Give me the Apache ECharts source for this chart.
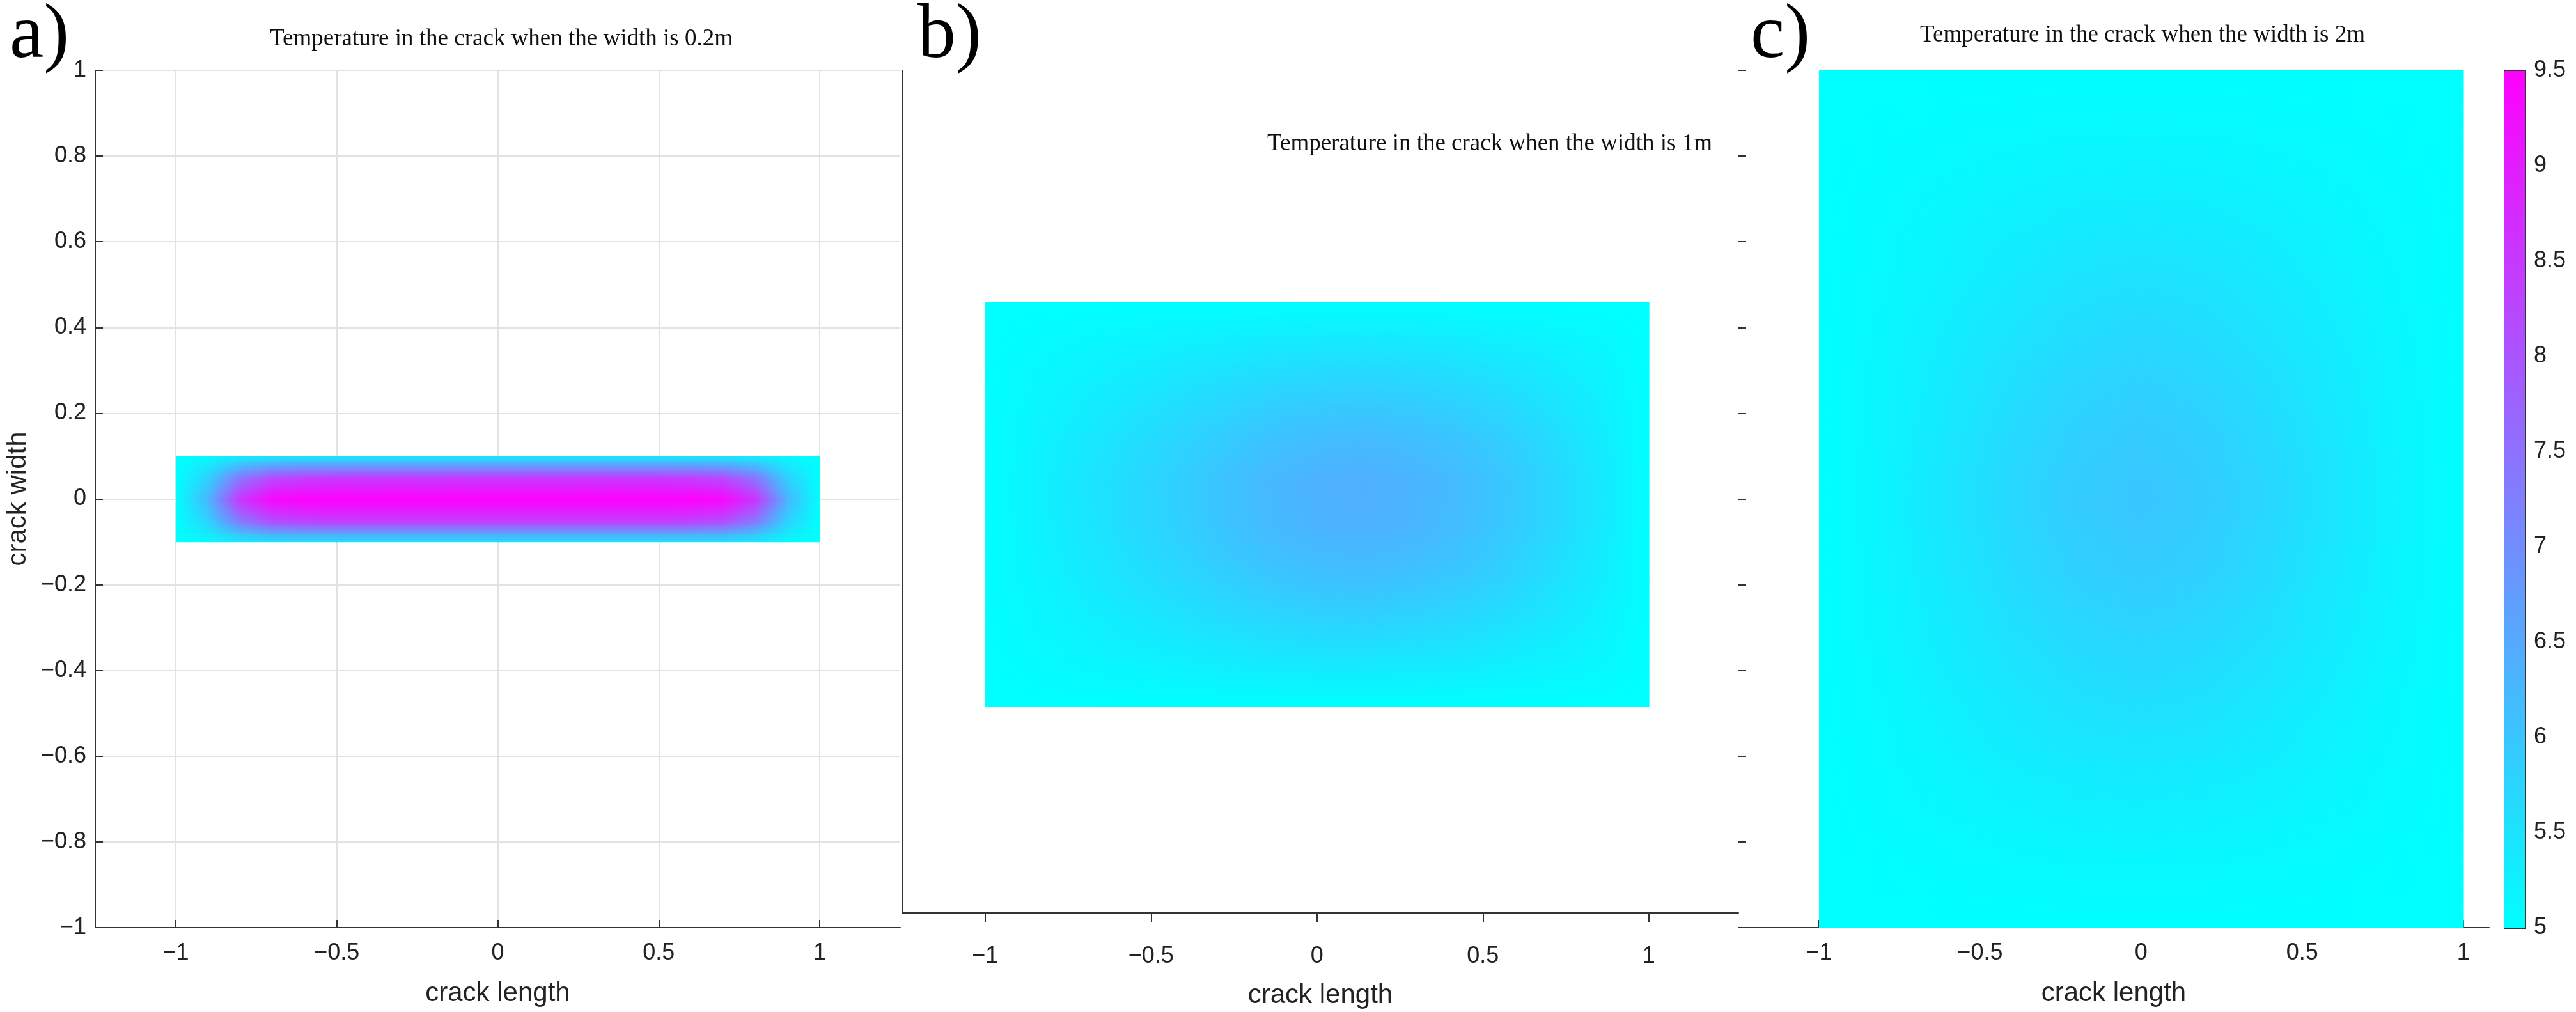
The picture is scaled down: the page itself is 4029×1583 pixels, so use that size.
<!DOCTYPE html>
<html><head><meta charset="utf-8">
<script src="https://cdn.jsdelivr.net/npm/echarts@6/dist/echarts.min.js"></script>
<style>html,body{margin:0;background:#fff}#c{width:4029px;height:1583px}</style>
</head><body><div id="c"></div>
<script>
// Node values (temperature); rows from bottom to top.
// Panel a: width 0.2 m
const aX = [-1,-0.9,-0.8,-0.7,-0.6,-0.5,-0.4,-0.3,-0.2,-0.1,0,0.1,0.2,0.3,0.4,0.5,0.6,0.7,0.8,0.9,1];
const aY = [-0.1,-0.05,0,0.05,0.1];
const aValues = [
 [5,5.1,5.3,5.4,5.4,5.4,5.4,5.4,5.4,5.4,5.4,5.4,5.4,5.4,5.4,5.4,5.4,5.4,5.3,5.1,5],
 [5,5.8,7.4,8.2,8.4,8.5,8.5,8.5,8.5,8.5,8.5,8.5,8.5,8.5,8.5,8.5,8.4,8.2,7.4,5.8,5],
 [5,6.3,8.6,9.4,9.5,9.5,9.5,9.5,9.5,9.5,9.5,9.5,9.5,9.5,9.5,9.5,9.5,9.4,8.6,6.3,5],
 [5,5.8,7.4,8.2,8.4,8.5,8.5,8.5,8.5,8.5,8.5,8.5,8.5,8.5,8.5,8.5,8.4,8.2,7.4,5.8,5],
 [5,5.1,5.3,5.4,5.4,5.4,5.4,5.4,5.4,5.4,5.4,5.4,5.4,5.4,5.4,5.4,5.4,5.4,5.3,5.1,5]
];
// Panel b: width 1 m
const bX = [-1,-0.857,-0.714,-0.571,-0.429,-0.286,-0.143,0,0.143,0.286,0.429,0.571,0.714,0.857,1];
const bY = [-0.51,-0.403,-0.297,-0.19,-0.083,0.023,0.13,0.237,0.343,0.45];
const bValues = [
 [5,5,5,5,5,5,5,5,5,5,5,5,5,5,5],
 [5,5.06,5.13,5.19,5.25,5.32,5.37,5.41,5.42,5.40,5.36,5.29,5.21,5.12,5],
 [5,5.12,5.24,5.37,5.49,5.61,5.71,5.79,5.81,5.77,5.69,5.57,5.41,5.23,5],
 [5,5.17,5.34,5.52,5.69,5.86,6.01,6.11,6.15,6.09,5.98,5.80,5.57,5.32,5],
 [5,5.20,5.41,5.61,5.81,6.02,6.20,6.32,6.36,6.29,6.15,5.95,5.68,5.38,5],
 [5,5.21,5.42,5.63,5.84,6.05,6.23,6.36,6.40,6.33,6.19,5.98,5.70,5.39,5],
 [5,5.18,5.36,5.54,5.71,5.89,6.05,6.15,6.19,6.13,6.01,5.83,5.60,5.33,5],
 [5,5.13,5.25,5.38,5.50,5.63,5.74,5.81,5.84,5.80,5.71,5.59,5.42,5.24,5],
 [5,5.07,5.13,5.20,5.27,5.34,5.39,5.43,5.45,5.43,5.38,5.31,5.22,5.13,5],
 [5,5,5,5,5,5,5,5,5,5,5,5,5,5,5]
];
// Panel c: width 2 m
const cX = [-1,-0.8,-0.6,-0.4,-0.2,0,0.2,0.4,0.6,0.8,1];
const cY = [-1,-0.857,-0.714,-0.571,-0.429,-0.286,-0.143,0,0.143,0.286,0.429,0.571,0.714,0.857,1];
const cValues = [
 [5,5,5,5,5,5,5,5,5,5,5],
 [5,5.02,5.05,5.08,5.11,5.12,5.11,5.08,5.05,5.02,5],
 [5,5.06,5.13,5.20,5.25,5.28,5.25,5.20,5.13,5.06,5],
 [5,5.09,5.20,5.32,5.41,5.45,5.41,5.32,5.20,5.09,5],
 [5,5.12,5.28,5.43,5.56,5.62,5.56,5.43,5.28,5.12,5],
 [5,5.16,5.35,5.55,5.70,5.78,5.70,5.55,5.35,5.16,5],
 [5,5.18,5.41,5.64,5.83,5.92,5.83,5.64,5.41,5.18,5],
 [5,5.20,5.45,5.70,5.90,6.00,5.90,5.70,5.45,5.20,5],
 [5,5.18,5.41,5.64,5.83,5.92,5.83,5.64,5.41,5.18,5],
 [5,5.16,5.35,5.55,5.70,5.78,5.70,5.55,5.35,5.16,5],
 [5,5.12,5.28,5.43,5.56,5.62,5.56,5.43,5.28,5.12,5],
 [5,5.09,5.20,5.32,5.41,5.45,5.41,5.32,5.20,5.09,5],
 [5,5.06,5.13,5.20,5.25,5.28,5.25,5.20,5.13,5.06,5],
 [5,5.02,5.05,5.08,5.11,5.12,5.11,5.08,5.05,5.02,5],
 [5,5,5,5,5,5,5,5,5,5,5]
];
const titles = ['Temperature in the crack when the width is 0.2m','Temperature in the crack when the width is 1m','Temperature in the crack when the width is 2m'];
const panelLetters = ['a)','b)','c)'];
const xTicks = [-1,-0.5,0,0.5,1];
const colorTicks = [5,5.5,6,6.5,7,7.5,8,8.5,9,9.5];
const cMin = 5, cMax = 9.5;

const colorOf = v => {
  const f = Math.max(0, Math.min(1, (v - cMin) / (cMax - cMin)));
  return 'rgb(' + Math.round(255*f) + ',' + Math.round(255*(1-f)) + ',255)';
};
function cells(xs, ys, vals){
  const out=[];
  for(let j=0;j<ys.length-1;j++) for(let i=0;i<xs.length-1;i++){
    out.push([xs[i],ys[j],xs[i+1],ys[j+1],vals[j][i],vals[j][i+1],vals[j+1][i],vals[j+1][i+1]]);
  }
  return out;
}
const fmt = v => String(v).replace('-','\u2212');
const STRIPS = 8;
function renderItem(params, api){
  const x0=api.value(0), y0=api.value(1), x1=api.value(2), y1=api.value(3);
  const v00=api.value(4), v10=api.value(5), v01=api.value(6), v11=api.value(7);
  const children=[];
  for(let k=0;k<STRIPS;k++){
    const ta=k/STRIPS, tb=(k+1)/STRIPS, tm=(ta+tb)/2;
    const pa=api.coord([x0, y0+(y1-y0)*tb]), pb=api.coord([x1, y0+(y1-y0)*ta]);
    const vl=v00+(v01-v00)*tm, vr=v10+(v11-v10)*tm;
    children.push({type:'rect',shape:{x:pa[0],y:pa[1],width:pb[0]-pa[0]+0.8,height:pb[1]-pa[1]+0.8},
      style:{fill:new echarts.graphic.LinearGradient(0,0,1,0,[{offset:0,color:colorOf(vl)},{offset:1,color:colorOf(vr)}])}});
  }
  return {type:'group',children};
}
const lab={color:'#222',fontFamily:'Liberation Sans',fontSize:36};
const nameSt={color:'#222',fontFamily:'Liberation Sans',fontSize:42};
const axLine={show:true,onZero:false,lineStyle:{color:'#333',width:2}};
const tick={length:12,inside:true,lineStyle:{color:'#333',width:2}};
const grids=[
 {left:149,top:110,width:1259,height:1341},
 {left:1411,top:110,width:1308,height:1336},
 {left:2719,top:110,width:1174,height:1341},
 {left:3916,top:110,width:33,height:1341}
];
const xAxes=[
 {gridIndex:0,type:'value',min:-1.25,max:1.25,axisLine:axLine,axisTick:{...tick,customValues:xTicks},axisLabel:{...lab,customValues:xTicks,formatter:fmt,margin:22},splitLine:{show:true,lineStyle:{color:'#e2e2e2',width:2}},name:'crack length',nameLocation:'middle',nameGap:82,nameTextStyle:nameSt},
 {gridIndex:1,type:'value',min:-1.25,max:1.27,axisLine:axLine,axisTick:{...tick,customValues:xTicks,inside:false,length:14},axisLabel:{...lab,customValues:xTicks,formatter:fmt,margin:50},splitLine:{show:false},name:'crack length',nameLocation:'middle',nameGap:108,nameTextStyle:nameSt},
 {gridIndex:2,type:'value',min:-1.25,max:1.08,axisLine:axLine,axisTick:{...tick,customValues:xTicks},axisLabel:{...lab,customValues:xTicks,formatter:fmt,margin:22},splitLine:{show:false},name:'crack length',nameLocation:'middle',nameGap:82,nameTextStyle:nameSt},
 {gridIndex:3,type:'value',show:false,min:0,max:1}
];
const yAxes=[
 {gridIndex:0,type:'value',min:-1,max:1,interval:0.2,axisLine:axLine,axisTick:tick,axisLabel:{...lab,formatter:v=>fmt(+v.toFixed(1)),margin:14},splitLine:{show:true,lineStyle:{color:'#e2e2e2',width:2}},name:'crack width',nameLocation:'middle',nameGap:100,nameTextStyle:nameSt},
 {gridIndex:1,type:'value',min:-1,max:1,interval:0.2,axisLine:axLine,axisTick:{show:false},axisLabel:{show:false},splitLine:{show:false}},
 {gridIndex:2,type:'value',min:-1,max:1,interval:0.2,axisLine:{show:false,onZero:false},axisTick:tick,axisLabel:{show:false},splitLine:{show:false}},
 {gridIndex:3,type:'value',position:'right',min:5,max:9.5,interval:0.5,axisLine:{show:false,onZero:false},axisTick:{...tick,length:10},axisLabel:{...lab,margin:14},splitLine:{show:false}}
];
const titleDefs=[
 {text:titles[0],left:779,top:38,textAlign:'center'},
 {text:titles[1],left:2325,top:202,textAlign:'center'},
 {text:titles[2],left:3346,top:32,textAlign:'center'}
].map(t=>({...t,textStyle:{fontFamily:'Liberation Serif',fontWeight:'normal',fontSize:37,color:'#111'}}));
const letterDefs=[[10,-8],[1430,-8],[2733,-8]].map((p,i)=>({text:panelLetters[i],left:p[0],top:p[1],textStyle:{fontFamily:'Liberation Serif',fontWeight:'normal',fontSize:120,color:'#000'}}));
const chart=echarts.init(document.getElementById('c'));
chart.setOption({
 animation:false,
 title:[...titleDefs,...letterDefs],
 grid:grids, xAxis:xAxes, yAxis:yAxes,
 visualMap:{type:'continuous',min:cMin,max:cMax,dimension:4,seriesIndex:[],calculable:false,left:3916,top:110,itemWidth:33,itemHeight:1341,text:['',''],showLabel:false,inRange:{color:['#00ffff','#ff00ff']},borderColor:'#333',borderWidth:2,padding:0},
 series:[
  {type:'custom',xAxisIndex:0,yAxisIndex:0,renderItem,data:cells(aX,aY,aValues),encode:{x:[0,2],y:[1,3]}},
  {type:'custom',xAxisIndex:1,yAxisIndex:1,renderItem,data:cells(bX,bY,bValues),encode:{x:[0,2],y:[1,3]}},
  {type:'custom',xAxisIndex:2,yAxisIndex:2,renderItem,data:cells(cX,cY,cValues),encode:{x:[0,2],y:[1,3]}}
 ]
});
</script></body></html>
